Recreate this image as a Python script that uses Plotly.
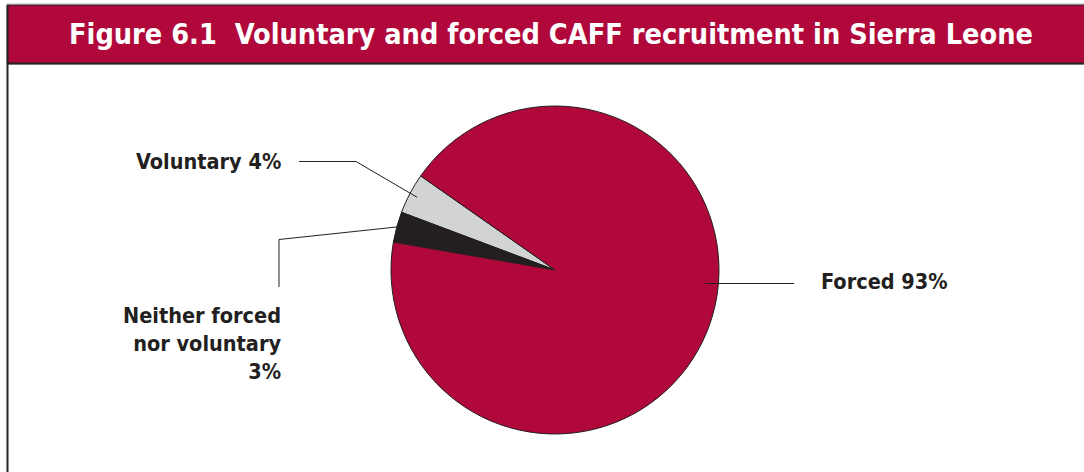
import math
import plotly.graph_objects as go

# Recruitment shares (percent)
categories = ["Voluntary", "Neither forced nor voluntary", "Forced"]
shares = [4, 3, 93]
slice_colors = ["#d1d3d4", "#231f20", "#b0083a"]

W, H = 1084, 472
TITLE = "Figure 6.1  Voluntary and forced CAFF recruitment in Sierra Leone"
INK = "#231f20"
RED = "#b0083a"
FONT = "DejaVu Sans Condensed, Liberation Sans Narrow, sans-serif"

# Pie placement in pixels
CX, CY, R = 555, 270, 164
START_DEG = 145  # math angle where the first slice begins (counter-clockwise)


def px(x):
    return x / W


def py(y):
    return 1 - y / H


total = sum(shares)
# plotly's counter-clockwise pies end the first slice at `rotation`
# (clockwise degrees from 12 o'clock), so offset by the first slice's sweep.
rotation = (90 - START_DEG) - 360 * shares[0] / total

fig = go.Figure(
    go.Pie(
        labels=categories,
        values=shares,
        sort=False,
        direction="counterclockwise",
        rotation=rotation,
        marker=dict(colors=slice_colors, line=dict(color=INK, width=1)),
        textinfo="none",
        hoverinfo="label+percent",
        domain=dict(x=[px(CX - R), px(CX + R)], y=[py(CY + R), py(CY - R)]),
        showlegend=False,
    )
)


def slice_point(idx, frac):
    """Point inside slice idx at the mid angle, frac of the radius from centre."""
    before = sum(shares[:idx])
    mid = START_DEG + 360 * (before + shares[idx] / 2) / total
    a = math.radians(mid)
    return CX + frac * R * math.cos(a), CY - frac * R * math.sin(a)


shapes = []


def poly(points):
    path = "M " + " L ".join(f"{px(x):.5f},{py(y):.5f}" for x, y in points)
    shapes.append(dict(type="path", xref="paper", yref="paper", path=path,
                       line=dict(color=INK, width=1)))


# Leader lines
vx, vy = slice_point(0, 0.95)
poly([(299, 161.5), (356, 161.5), (vx, vy)])
nx, ny = slice_point(1, 1.0)
poly([(nx, ny), (279, 239.5), (279, 287)])
poly([(705, 283.5), (794, 283.5)])

# Title band and frame
shapes.append(dict(type="line", xref="paper", yref="paper",
                   x0=px(7), x1=px(W + 10), y0=py(4), y1=py(4),
                   line=dict(color="#b5b5b5", width=1.2)))
shapes.append(dict(type="rect", xref="paper", yref="paper",
                   x0=px(7.5), x1=px(W + 10), y0=py(63.5), y1=py(5),
                   fillcolor=RED, line=dict(color="#3b1c26", width=1.5), layer="below"))
shapes.append(dict(type="line", xref="paper", yref="paper",
                   x0=px(7.5), x1=px(W + 10), y0=py(63.5), y1=py(63.5),
                   line=dict(color="#2a2326", width=2.2)))
shapes.append(dict(type="line", xref="paper", yref="paper",
                   x0=px(7.5), x1=px(7.5), y0=py(5), y1=py(H + 10),
                   line=dict(color="#2a2326", width=2)))

label_font = dict(family=FONT, size=21.5, color=INK)

annotations = [
    dict(text=f"<b>{TITLE}</b>", x=px(551), y=py(34), xref="paper", yref="paper",
         showarrow=False, xanchor="center", yanchor="middle",
         font=dict(family=FONT, size=28.6, color="white")),
    dict(text=f"<b>{categories[0]} {shares[0]}%</b>", x=px(283), y=py(161),
         xref="paper", yref="paper", showarrow=False, xanchor="right",
         yanchor="middle", font=label_font),
    dict(text=f"<b>Neither forced<br>nor voluntary<br>{shares[1]}%</b>", x=px(283),
         y=py(343), xref="paper", yref="paper", showarrow=False, xanchor="right",
         yanchor="middle", align="right", font=label_font),
    dict(text=f"<b>{categories[2]} {shares[2]}%</b>", x=px(819), y=py(281),
         xref="paper", yref="paper", showarrow=False, xanchor="left",
         yanchor="middle", font=label_font),
]

fig.update_layout(
    width=W,
    height=H,
    margin=dict(l=0, r=0, t=0, b=0),
    paper_bgcolor="white",
    plot_bgcolor="white",
    shapes=shapes,
    annotations=annotations,
)

fig.write_html("out.html")
